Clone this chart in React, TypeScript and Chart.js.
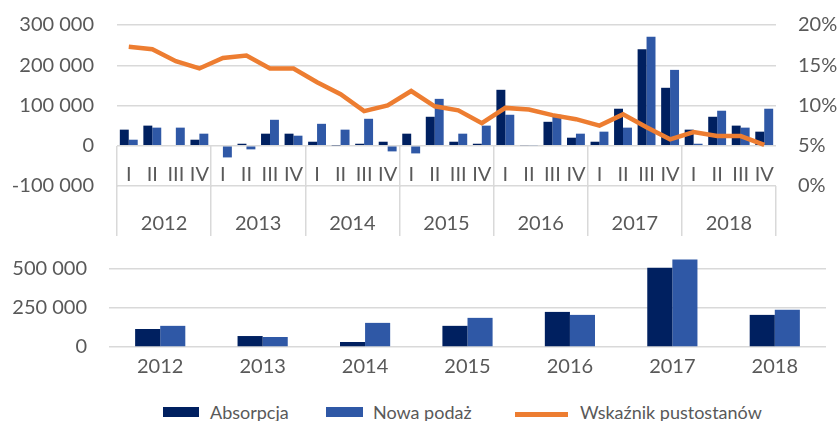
import React, { useEffect, useRef } from "react";
import { Chart, registerables } from "chart.js";

Chart.register(...registerables);

const quarters = ["I", "II", "III", "IV", "I", "II", "III", "IV", "I", "II", "III", "IV", "I", "II", "III", "IV", "I", "II", "III", "IV", "I", "II", "III", "IV", "I", "II", "III", "IV"];
const years = ["2012", "2013", "2014", "2015", "2016", "2017", "2018"];

const absorpcjaQ = [40000, 50000, 0, 15000, 0, 5000, 30000, 30000, 10000, 1000, 5000, 10000, 30000, 72000, 10000, 5000, 139000, 1500, 59500, 20000, 10000, 92000, 240000, 144000, 40000, 72000, 50000, 35000];
const nowaPodazQ = [15000, 45000, 45000, 30000, -29000, -9000, 64500, 25000, 54500, 40000, 67000, -14000, -19000, 116500, 30000, 50000, 77000, 1500, 77000, 30000, 35000, 45000, 270500, 188500, 5000, 87000, 45000, 92000];
const vacancyQ = [17.3, 17.0, 15.5, 14.6, 15.9, 16.2, 14.6, 14.6, 12.9, 11.4, 9.3, 10.0, 11.8, 9.9, 9.4, 7.8, 9.7, 9.5, 8.8, 8.3, 7.5, 8.9, 7.3, 5.8, 6.7, 6.2, 6.2, 5.1];

const absorpcjaY = [115000, 70000, 32000, 135000, 224000, 506000, 205000];
const nowaPodazY = [135000, 64000, 154000, 186000, 205000, 558000, 237000];
const annualTicks = [0, 250000, 500000];

const DARK = "#002060";
const BLUE = "#2F58A6";
const ORANGE = "#ED7D31";
const GRID = "#D9D9D9";
const TEXT = "#595959";
const FONT = "Lato";
const CLEAR = "rgba(0,0,0,0)";

const fmt = (v: number) => String(v).replace(/\B(?=(\d{3})+(?!\d))/g, " ");

export default function App() {
  const topRef = useRef<HTMLCanvasElement>(null);
  const botRef = useRef<HTMLCanvasElement>(null);

  useEffect(() => {
    Chart.defaults.font.family = FONT;
    Chart.defaults.color = TEXT;
    const top = new Chart(topRef.current!, {
      type: "bar",
      data: {
        labels: quarters,
        datasets: [
          {
            type: "line",
            label: "Wskaźnik pustostanów",
            data: vacancyQ,
            borderColor: ORANGE,
            backgroundColor: ORANGE,
            borderWidth: 4.5,
            pointRadius: 0,
            tension: 0,
            xAxisID: "x",
            yAxisID: "y1",
            order: 0,
          } as any,
          {
            label: "Absorpcja",
            data: absorpcjaQ,
            backgroundColor: DARK,
            categoryPercentage: 0.76,
            barPercentage: 1,
            xAxisID: "x",
            yAxisID: "y",
            order: 1,
          },
          {
            label: "Nowa podaż",
            data: nowaPodazQ,
            backgroundColor: BLUE,
            categoryPercentage: 0.76,
            barPercentage: 1,
            xAxisID: "x",
            yAxisID: "y",
            order: 1,
          },
        ],
      },
      options: {
        responsive: false,
        animation: false,
        layout: { padding: { top: 25, left: 0, right: 0, bottom: 0 } },
        plugins: { legend: { display: false }, tooltip: { enabled: false } },
        scales: {
          x: {
            type: "category",
            position: { y: 0 } as any,
            offset: true,
            grid: {
              offset: true,
              drawOnChartArea: false,
              tickLength: 41,
              color: (ctx: any) => (ctx.index % 4 === 0 ? GRID : CLEAR),
              lineWidth: 1.5,
            },
            border: { display: false },
            ticks: { autoSkip: false, maxRotation: 0, padding: -24, font: { size: 20 }, color: TEXT },
          },
          xYear: {
            type: "category",
            labels: years,
            position: "bottom",
            offset: true,
            grid: { offset: true, drawOnChartArea: false, tickLength: 50, color: GRID, lineWidth: 1.5 },
            border: { display: false },
            ticks: { autoSkip: false, maxRotation: 0, padding: -24, font: { size: 20 }, color: TEXT },
            afterFit: (s: any) => { s.height = 54; },
          },
          y: {
            position: "left",
            min: -100000,
            max: 300000,
            ticks: { stepSize: 100000, padding: 0, font: { size: 20 }, color: TEXT, callback: (v: any) => fmt(Number(v)) },
            grid: { color: GRID, lineWidth: 1.5, tickLength: 23, tickColor: CLEAR },
            border: { display: false },
            afterFit: (s: any) => { s.width = 117; },
          },
          y1: {
            position: "right",
            min: 0,
            max: 20,
            ticks: { stepSize: 5, padding: 0, font: { size: 20 }, color: TEXT, callback: (v: any) => v + "%" },
            grid: { drawOnChartArea: false, tickLength: 22, tickColor: CLEAR, color: CLEAR },
            border: { display: false },
            afterFit: (s: any) => { s.width = 64; },
          },
        },
      },
    });

    const bot = new Chart(botRef.current!, {
      type: "bar",
      data: {
        labels: years,
        datasets: [
          { label: "Absorpcja", data: absorpcjaY, backgroundColor: DARK, categoryPercentage: 0.49, barPercentage: 1 },
          { label: "Nowa podaż", data: nowaPodazY, backgroundColor: BLUE, categoryPercentage: 0.49, barPercentage: 1 },
        ],
      },
      options: {
        responsive: false,
        animation: false,
        layout: { padding: { top: 13, left: 0, right: 14, bottom: 0 } },
        plugins: { legend: { display: false }, tooltip: { enabled: false } },
        scales: {
          x: {
            grid: { display: false },
            border: { display: false },
            ticks: { padding: 0, font: { size: 20 }, color: TEXT, maxRotation: 0 },
            afterFit: (s: any) => { s.height = 43; },
          },
          y: {
            min: 0,
            max: 600000,
            ticks: { stepSize: 100000, autoSkip: false, padding: 0, font: { size: 20 }, color: TEXT, callback: (v: any) => fmt(Number(v)) },
            afterBuildTicks: (s: any) => { s.ticks = annualTicks.map((value) => ({ value })); },
            grid: { color: GRID, lineWidth: 1.5, tickLength: 22, tickColor: CLEAR },
            border: { display: false },
            afterFit: (s: any) => { s.width = 109; },
          },
        },
      },
    });

    return () => {
      top.destroy();
      bot.destroy();
    };
  }, []);

  const legendText: React.CSSProperties = {
    position: "absolute",
    top: 401,
    fontFamily: FONT,
    fontSize: 18,
    color: TEXT,
    lineHeight: "22px",
    whiteSpace: "nowrap",
  };

  return (
    <div style={{ position: "fixed", left: 0, top: 0, width: 840, height: 421, background: "#fff", overflow: "hidden" }}>
      <canvas ref={topRef} width={840} height={240} style={{ position: "absolute", left: 0, top: 0, width: 840, height: 240 }} />
      <canvas ref={botRef} width={840} height={150} style={{ position: "absolute", left: 0, top: 240, width: 840, height: 150 }} />
      <div style={{ position: "absolute", left: 163, top: 407, width: 36, height: 10, background: DARK }} />
      <div style={{ ...legendText, left: 210 }}>Absorpcja</div>
      <div style={{ position: "absolute", left: 326, top: 407, width: 37, height: 10, background: BLUE }} />
      <div style={{ ...legendText, left: 373 }}>Nowa podaż</div>
      <div style={{ position: "absolute", left: 515, top: 412, width: 53, height: 5, background: ORANGE }} />
      <div style={{ ...legendText, left: 580 }}>Wskaźnik pustostanów</div>
    </div>
  );
}
